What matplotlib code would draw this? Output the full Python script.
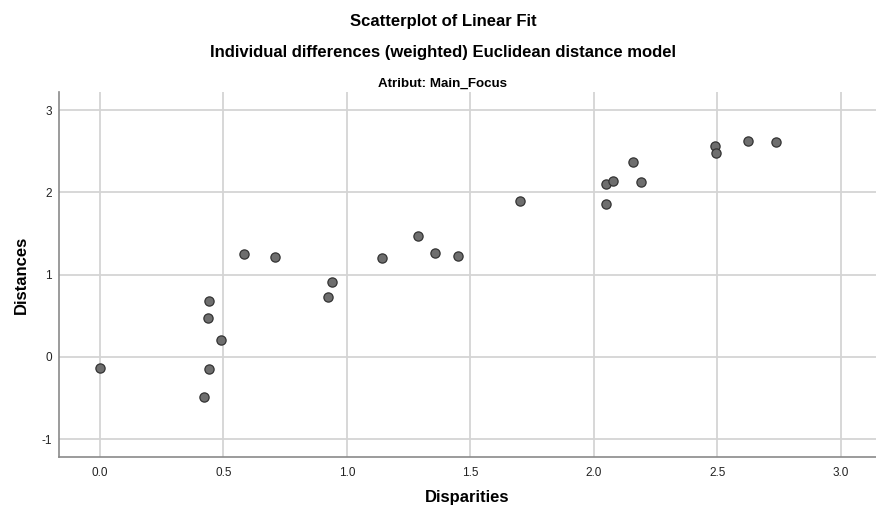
import matplotlib
matplotlib.use("Agg")
import matplotlib.pyplot as plt

# disparities (x) vs distances (y)
disparities = [0.00, 0.441, 0.436, 0.489, 0.440, 0.420, 0.582, 0.709,
               0.938, 0.925, 1.141, 1.289, 1.358, 1.450, 1.702,
               2.051, 2.078, 2.051, 2.157, 2.190, 2.490, 2.496, 2.626, 2.738]
distances = [-0.137, 0.680, 0.470, 0.210, -0.150, -0.490, 1.255, 1.215,
             0.907, 0.729, 1.199, 1.470, 1.268, 1.223, 1.892,
             2.102, 2.135, 1.863, 2.369, 2.122, 2.560, 2.479, 2.621, 2.616]

x_ticks = [0.0, 0.5, 1.0, 1.5, 2.0, 2.5, 3.0]
y_ticks = [-1, 0, 1, 2, 3]

plt.rcParams['font.family'] = ['Liberation Sans', 'DejaVu Sans']

fig = plt.figure(figsize=(8.76, 5.11), dpi=100)
ax = fig.add_axes([59 / 876, 54 / 511, 817 / 876, 365 / 511])

ax.scatter(disparities, distances, s=44, color='#6e6e6e',
           edgecolors='#333333', linewidths=0.9, zorder=3)

ax.set_xlim(-0.166, 3.143)
ax.set_ylim(-1.215, 3.219)
ax.set_xticks(x_ticks)
ax.set_xticklabels(['%.1f' % v for v in x_ticks])
ax.set_yticks(y_ticks)
ax.set_yticklabels([str(v) for v in y_ticks])
ax.tick_params(length=0, labelsize=8.5, colors='#222222')
ax.tick_params(axis='y', pad=5)
ax.tick_params(axis='x', pad=7)
ax.grid(True, color='#d4d4d4', linewidth=1.3)
ax.set_axisbelow(True)
for side in ['top', 'right']:
    ax.spines[side].set_visible(False)
for side in ['left', 'bottom']:
    ax.spines[side].set_color('#8a8a8a')
    ax.spines[side].set_linewidth(1.2)

ax.set_xlabel('Disparities', fontsize=12, fontweight='bold', labelpad=8)
ax.set_ylabel('Distances', fontsize=12, fontweight='bold', labelpad=9)

cx = 443 / 876
fig.text(cx, 1 - 26 / 511, 'Scatterplot of Linear Fit', ha='center', va='baseline',
         fontsize=12, fontweight='bold')
fig.text(cx, 1 - 56.5 / 511, 'Individual differences (weighted) Euclidean distance model',
         ha='center', va='baseline', fontsize=12, fontweight='bold')
fig.text(cx, 1 - 87 / 511, 'Atribut: Main_Focus', ha='center', va='baseline',
         fontsize=9.6, fontweight='bold')

fig.savefig('out.png', dpi=100)
